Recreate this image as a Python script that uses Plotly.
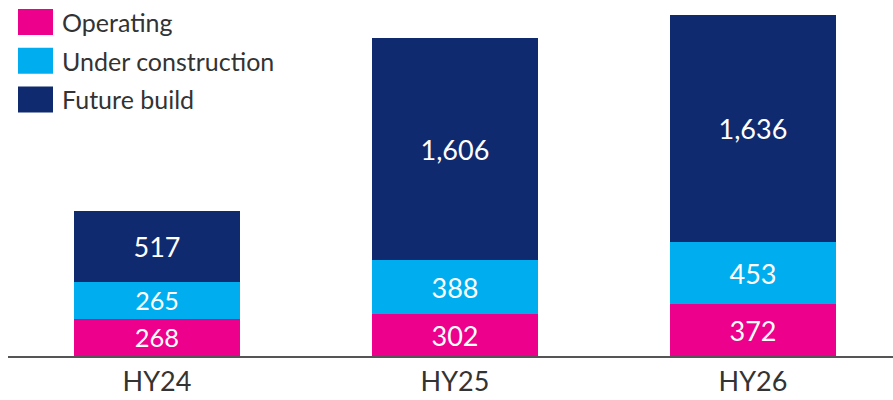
import plotly.graph_objects as go

categories = ["HY24", "HY25", "HY26"]
operating = [268, 302, 372]
under_construction = [265, 388, 453]
future_build = [517, 1606, 1636]

series_names = ["Operating", "Under construction", "Future build"]
colors = ["#EC008C", "#00AEEF", "#0F2A6E"]

FONT = "Lato"
fig = go.Figure()
for name, vals, col in zip(series_names, [operating, under_construction, future_build], colors):
    fig.add_trace(go.Bar(
        x=categories, y=vals, name=name, marker=dict(color=col, line=dict(width=0)),
        texttemplate="%{y:,}", textposition="inside", insidetextanchor="middle",
        textfont=dict(color="white", size=27, family=FONT), textangle=0,
        hoverinfo="skip", showlegend=False,
    ))

# custom legend (swatches + labels)
for i, (name, col) in enumerate(zip(series_names, colors)):
    yc = 22 + i * 38.7
    fig.add_shape(type="rect", xref="paper", yref="paper",
                  x0=(18 - 8) / 885, x1=(53 - 8) / 885,
                  y0=(356 - (yc + 13)) / 356, y1=(356 - (yc - 13)) / 356,
                  fillcolor=col, line=dict(width=0), layer="above")
    fig.add_annotation(xref="paper", yref="paper", x=(60 - 8) / 885, y=(356 - yc) / 356,
                       text=name, showarrow=False, xanchor="left", yanchor="middle",
                       font=dict(size=25, color="#333333", family=FONT))

fig.update_layout(
    barmode="stack", bargap=0.443,
    width=893, height=400,
    margin=dict(l=8, r=0, t=0, b=44, autoexpand=False),
    plot_bgcolor="white", paper_bgcolor="white",
    font=dict(family=FONT, color="#333333"),
    uniformtext=dict(mode=False),
)
fig.update_xaxes(range=[-0.5, 2.47], showline=True, linecolor="#555555", linewidth=2,
                 ticks="", tickfont=dict(size=27, color="#333333", family=FONT),
                 showgrid=False, zeroline=False, automargin=False, ticklabelstandoff=1)
fig.update_yaxes(range=[0, 2570], visible=False, showgrid=False, zeroline=False, automargin=False)

fig.write_html("out.html", config={"displayModeBar": False, "staticPlot": True},
               post_script="document.body.style.margin='0';document.body.style.overflow='hidden';")
